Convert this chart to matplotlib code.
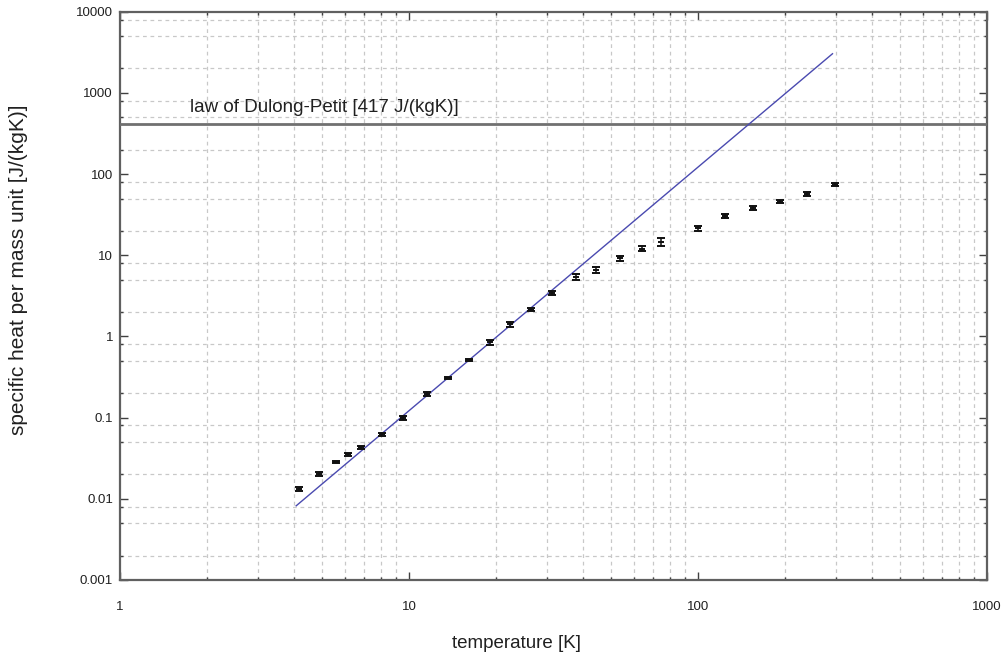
import matplotlib
matplotlib.use("Agg")
import matplotlib.pyplot as plt
from matplotlib.ticker import LogLocator, NullFormatter, FixedLocator, FixedFormatter

plt.rcParams['font.family'] = ['Liberation Sans', 'DejaVu Sans']

# measured data: temperature [K], specific heat [J/(kgK)], error
temperature = [4.16, 4.88, 5.59, 6.14, 6.82, 8.05, 9.53, 11.54, 13.6, 16.1,
               19.1, 22.4, 26.4, 31.3, 37.8, 44.3, 53.8, 63.9, 74.3, 99.8,
               124, 154.6, 192.7, 238.8, 297]
heat = [0.0131, 0.0201, 0.0282, 0.0354, 0.0432, 0.0625, 0.0984, 0.196, 0.308, 0.514,
        0.855, 1.41, 2.14, 3.46, 5.41, 6.59, 9.19, 12.05, 14.7, 21.5,
        30.7, 38.5, 45.7, 57.4, 74.0]
heat_err = [0.0007, 0.0012, 0.0008, 0.0015, 0.002, 0.003, 0.006, 0.01, 0.012, 0.02,
            0.06, 0.09, 0.1, 0.2, 0.4, 0.5, 0.6, 0.8, 1.6, 1.5,
            1.8, 2.5, 1.8, 3.0, 3.0]

# Debye T^3 law line (end points)
debye_T = [4.07, 292]
debye_C = [0.0082, 3035]

dulong_petit = 417
dulong_label = "law of Dulong-Petit [417 J/(kgK)]"

x_major = [1, 10, 100, 1000]
x_major_labels = ["1", "10", "100", "1000"]
y_major = [0.001, 0.01, 0.1, 1, 10, 100, 1000, 10000]
y_major_labels = ["0.001", "0.01", "0.1", "1", "10", "100", "1000", "10000"]

fig = plt.figure(figsize=(10.06, 6.57), dpi=100)
ax = fig.add_axes([120/1006, 1 - 580/657, 867/1006, (580 - 11.7)/657])

ax.set_xscale('log')
ax.set_yscale('log')
ax.set_xlim(1, 1000)
ax.set_ylim(0.001, 10000)

ax.axhline(dulong_petit, color='#707070', lw=2, zorder=3)
ax.text(1.75, 520, dulong_label, fontsize=13.5, color='#202020', va='bottom', ha='left')

ax.plot(debye_T, debye_C, color='#4a4ab0', lw=1, zorder=4)

ax.errorbar(temperature, heat, yerr=heat_err, fmt='none', ecolor='#101010',
            elinewidth=1.1, capsize=3.2, capthick=1.4, zorder=5)
ax.plot(temperature, heat, ls='none', marker='_', ms=5, mew=1.4, color='#101010', zorder=5)

ax.xaxis.set_major_locator(FixedLocator(x_major))
ax.xaxis.set_major_formatter(FixedFormatter(x_major_labels))
ax.xaxis.set_minor_locator(LogLocator(base=10, subs=[2, 3, 4, 5, 6, 7, 8, 9]))
ax.xaxis.set_minor_formatter(NullFormatter())
ax.yaxis.set_major_locator(FixedLocator(y_major))
ax.yaxis.set_major_formatter(FixedFormatter(y_major_labels))
ax.yaxis.set_minor_locator(LogLocator(base=10, subs=[2, 5, 8]))
ax.yaxis.set_minor_formatter(NullFormatter())

ax.grid(True, which='minor', color='#c8c8c8', ls=(0, (3, 3)), lw=0.9)
ax.grid(False, which='major')

ax.tick_params(which='major', direction='in', length=6, width=1, color='#404040',
               top=True, right=True, labelsize=9.5, labelcolor='#202020')
ax.tick_params(which='minor', direction='in', length=2.5, width=1, color='#404040',
               top=True, right=True)
ax.tick_params(axis='x', which='major', pad=15)
ax.tick_params(axis='y', which='major', pad=5)

for s in ax.spines.values():
    s.set_color('#606060')
    s.set_linewidth(1.6)

ax.set_xlabel("temperature [K]", fontsize=13.5, color='#202020')
ax.set_ylabel("specific heat per mass unit [J/(kgK)]", fontsize=15, color='#202020')
ax.xaxis.set_label_coords((517 - 120) / 867, -(643 - 580) / 568.3)
ax.yaxis.set_label_coords(-(120 - 18) / 867, 1 - (270 - 11.7) / 568.3)
ax.xaxis.label.set_va('center')
ax.yaxis.label.set_va('center')

fig.savefig("out.png", dpi=100)
